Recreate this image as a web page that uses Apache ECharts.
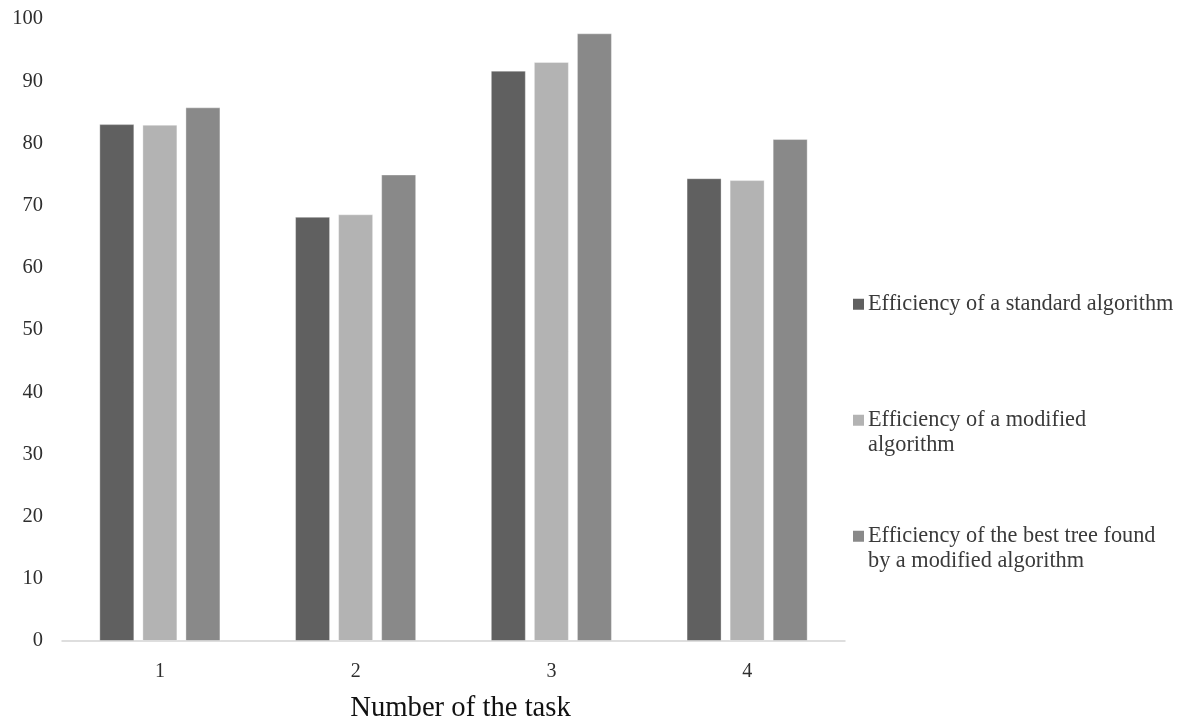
<!DOCTYPE html>
<html>
<head>
<meta charset="utf-8">
<script src="https://cdn.jsdelivr.net/npm/echarts@6/dist/echarts.min.js"></script>
<style>html,body{margin:0;padding:0;background:#fff}#c{width:1184px;height:722px}</style>
</head>
<body>
<div id="c"></div>
<script>
var categories = ['1', '2', '3', '4'];
var seriesNames = [
  'Efficiency of a standard algorithm',
  'Efficiency of a modified algorithm',
  'Efficiency of the best tree found by a modified algorithm'
];
var legendLines = [
  ['Efficiency of a standard algorithm'],
  ['Efficiency of a modified', 'algorithm'],
  ['Efficiency of the best tree found', 'by a modified algorithm']
];
var standardValues = [83.1, 68.2, 91.7, 74.4];
var modifiedValues = [83.0, 68.6, 93.1, 74.1];
var bestTreeValues = [85.8, 75.0, 97.7, 80.7];
var yTicks = [0, 10, 20, 30, 40, 50, 60, 70, 80, 90, 100];
var xAxisTitle = 'Number of the task';

var colors = ['#606060', '#b3b3b3', '#898989'];
var FONT = 'Liberation Serif';
var allValues = [standardValues, modifiedValues, bestTreeValues];

function makeLegend(i, top) {
  var lines = legendLines[i];
  return {
    show: true,
    data: [seriesNames[i]],
    left: 848,
    top: top,
    padding: 0,
    icon: 'none',
    itemWidth: 0,
    itemHeight: 11,
    selectedMode: false,
    formatter: function () {
      var out = '{sq| }{t|' + lines[0] + '}';
      for (var k = 1; k < lines.length; k++) out += '\n{ind| }{t|' + lines[k] + '}';
      return out;
    },
    textStyle: {
      fontFamily: FONT,
      fontSize: 22.3,
      color: '#3a3a3a',
      lineHeight: 24.5,
      rich: {
        sq: { width: 11, height: 11, backgroundColor: colors[i], verticalAlign: 'middle' },
        ind: { width: 11 },
        t: { fontFamily: FONT, fontSize: 22.3, color: '#3a3a3a', lineHeight: 24.5, padding: [0, 0, 0, 4] }
      }
    }
  };
}

var chart = echarts.init(document.getElementById('c'));
chart.setOption({
  backgroundColor: '#ffffff',
  animation: false,
  color: colors,
  legend: [makeLegend(0, 292), makeLegend(1, 408), makeLegend(2, 524)],
  grid: { left: 62, right: 339, top: 19, bottom: 81, containLabel: false, outerBoundsMode: 'none' },
  xAxis: {
    type: 'category',
    data: categories,
    name: xAxisTitle,
    nameLocation: 'middle',
    nameGap: 53,
    nameTextStyle: { fontFamily: FONT, fontSize: 28.7, color: '#111', padding: [0, 0, 0, 14] },
    axisLine: { show: true, lineStyle: { color: '#d4d4d4', width: 1.5 } },
    axisTick: { show: false },
    axisLabel: { fontFamily: FONT, fontSize: 20, color: '#2e2e2e', margin: 21 },
    splitLine: { show: false }
  },
  yAxis: {
    type: 'value',
    min: yTicks[0],
    max: yTicks[yTicks.length - 1],
    interval: yTicks[1] - yTicks[0],
    axisLine: { show: false },
    axisTick: { show: false },
    splitLine: { show: false },
    axisLabel: { fontFamily: FONT, fontSize: 20.5, color: '#2e2e2e', margin: 19, padding: [10, 0, 0, 0] }
  },
  series: seriesNames.map(function (n, i) {
    return {
      name: n,
      type: 'bar',
      data: allValues[i],
      barWidth: 35,
      barGap: '23%',
      itemStyle: { color: colors[i], borderColor: 'rgba(255,255,255,0.35)', borderWidth: 1 }
    };
  })
});
</script>
</body>
</html>
